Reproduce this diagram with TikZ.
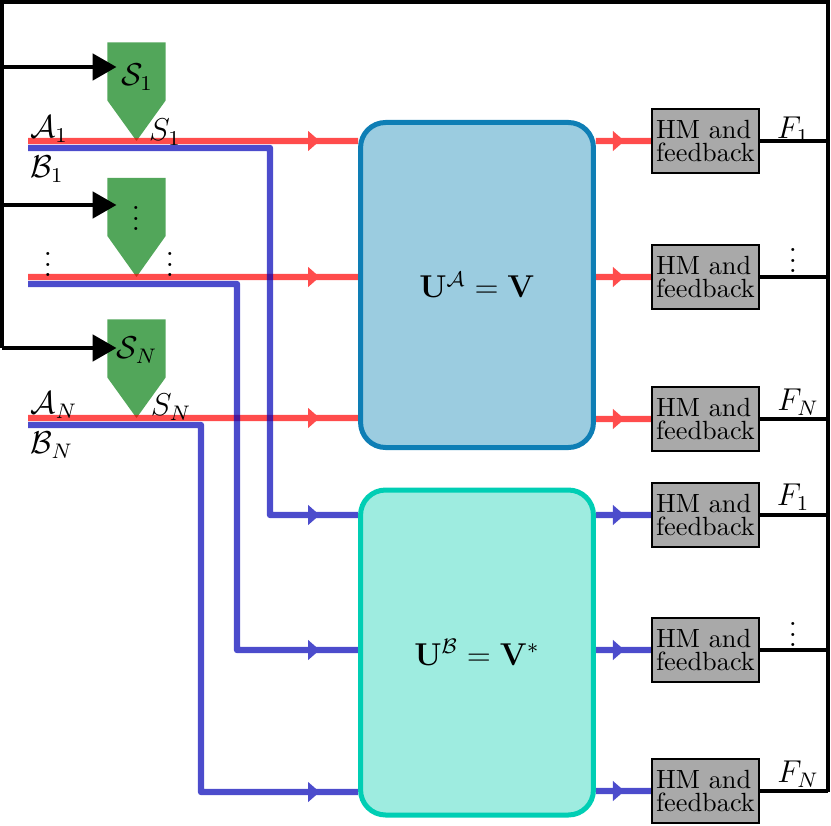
\documentclass[tikz,border=0pt]{standalone}
\usepackage{amsmath,amssymb}
\usetikzlibrary{arrows.meta,decorations.markings,calc}
\definecolor{redc}{RGB}{255,0,0}
\definecolor{bluec}{RGB}{0,0,183}
\definecolor{greenc}{RGB}{82,166,90}
\definecolor{afill}{RGB}{155,204,224}
\definecolor{adraw}{RGB}{14,126,181}
\definecolor{bfill}{RGB}{158,236,224}
\definecolor{bdraw}{RGB}{0,206,180}
\definecolor{hmgray}{RGB}{169,169,169}
\begin{document}
\begin{tikzpicture}[x=0.38pt,y=-0.38pt,
  redl/.style={draw, color=redc, line width=2.4pt},
  bluel/.style={draw, color=bluec, line width=2.4pt, line join=round},
  midarr/.style={postaction={decorate}, decoration={markings, mark=at position #1 with {\arrow{Triangle[length=4.4pt,width=7.4pt]}}}},
  fbl/.style={draw=black, line width=1.3pt},
  fbarr/.style={fbl, -{Triangle[length=9pt,width=10pt]}},
  gbox/.style={minimum width=21.7pt, minimum height=21.7pt, inner sep=0pt},
  hm/.style={draw, fill=hmgray, line width=0.8pt, minimum width=40.8pt, minimum height=24pt, align=left, inner sep=1.5pt},
  bigbox/.style={rounded corners=9.5pt, line width=1.9pt, minimum width=88.5pt, minimum height=123.5pt, font=\large},
  lbl/.style={inner sep=0pt, font=\large}
]
\useasboundingbox (0,0) rectangle (831,825);

% big boxes (positions only, drawn later)
\path (477,285) node[bigbox] (boxA) {};
\path (477,652.5) node[bigbox] (boxB) {};

% HM boxes
\node[hm] (hm1) at (705.5,141) {HM and\\[-2.9pt]feedback};
\node[hm] (hm2) at (705.5,277) {HM and\\[-2.9pt]feedback};
\node[hm] (hm3) at (705.5,419) {HM and\\[-2.9pt]feedback};
\node[hm] (hm4) at (705.5,515) {HM and\\[-2.9pt]feedback};
\node[hm] (hm5) at (705.5,650) {HM and\\[-2.9pt]feedback};
\node[hm] (hm6) at (705.5,791) {HM and\\[-2.9pt]feedback};

% green selectors
\node[gbox] (g1) at (136.5,71.5) {};
\coordinate (g1t) at (136.5,141);
\fill[greenc] (g1.north west) -- (g1.north east) -- (g1.south east) -- (g1t) -- (g1.south west) -- cycle;
\node[gbox] (g2) at (136.5,207) {};
\coordinate (g2t) at (136.5,277);
\fill[greenc] (g2.north west) -- (g2.north east) -- (g2.south east) -- (g2t) -- (g2.south west) -- cycle;
\node[gbox] (g3) at (136.5,348.5) {};
\coordinate (g3t) at (136.5,418);
\fill[greenc] (g3.north west) -- (g3.north east) -- (g3.south east) -- (g3t) -- (g3.south west) -- cycle;
\node[lbl] (S1) at (137,77) {$\mathcal{S}_1$};
\node[lbl] (Sd) at (136,211) {$\vdots$};
\node[lbl] (SN) at (137,350) {$\mathcal{S}_N$};

% coordinates
\coordinate (a1) at (28,141);
\coordinate (a2) at (28,277);
\coordinate (a3) at (28,418);
\coordinate (b1) at (28,148);
\coordinate (b2) at (28,284);
\coordinate (b3) at (28,425);
\coordinate (b1c) at (270,148);
\coordinate (b1d) at (270,515);
\coordinate (b2c) at (237,284);
\coordinate (b2d) at (237,650);
\coordinate (b3c) at (201,425);
\coordinate (b3d) at (201,792);

% red lines
\begin{scope}[transparency group, opacity=0.7]
\draw[redl, midarr=-14.6pt] (a1) -- (boxA.west |- a1);
\draw[redl, midarr=-14.6pt] (a2) -- (boxA.west |- a2);
\draw[redl, midarr=-14.6pt] (a3) -- (boxA.west |- a3);
\draw[redl, midarr=-10pt] (boxA.east |- hm1) -- (hm1.west);
\draw[redl, midarr=-10pt] (boxA.east |- hm2) -- (hm2.west);
\draw[redl, midarr=-10pt] (boxA.east |- hm3) -- (hm3.west);
\end{scope}
% blue lines
\begin{scope}[transparency group, opacity=0.7]
\draw[bluel, midarr=-14.6pt] (b1) -- (b1c) -- (b1d) -- (boxB.west |- b1d);
\draw[bluel, midarr=-14.6pt] (b2) -- (b2c) -- (b2d) -- (boxB.west |- b2d);
\draw[bluel, midarr=-14.6pt] (b3) -- (b3c) -- (b3d) -- (boxB.west |- b3d);
\draw[bluel, midarr=-10pt] (boxB.east |- hm4) -- (hm4.west);
\draw[bluel, midarr=-10pt] (boxB.east |- hm5) -- (hm5.west);
\draw[bluel, midarr=-10pt] (boxB.east |- hm6) -- (hm6.west);
\end{scope}

% big boxes drawn
\node[bigbox, draw=adraw, fill=afill] at (boxA) {$\mathbf{U}^{\mathcal{A}}=\mathbf{V}$};
\node[bigbox, draw=bdraw, fill=bfill] at (boxB) {$\mathbf{U}^{\mathcal{B}}=\mathbf{V}^*$};

% feedback frame
\coordinate (tl) at (2,2);
\coordinate (tr) at (828,2);
\coordinate (lb) at (2,348);
\coordinate (rb) at (828,792);
\draw[fbl] (lb) -- (tl) -- (tr) -- (rb);
\foreach \h in {hm1,hm2,hm3,hm4,hm5,hm6}{
  \draw[fbl] (\h.east) -- (\h.east -| tr);
}
\coordinate (l1) at (2,67);
\coordinate (l2) at (2,205);
\coordinate (l3) at (2,348);
\coordinate (g1in) at ($(g1.west)+(9,0)$);
\coordinate (g2in) at ($(g2.west)+(9,0)$);
\coordinate (g3in) at ($(g3.west)+(9,0)$);
\draw[fbarr] (l1) -- (l1 -| g1in);
\draw[fbarr] (l2) -- (l2 -| g2in);
\draw[fbarr] (l3) -- (l3 -| g3in);

% labels left
\node[lbl] (A1) at (49,129) {$\mathcal{A}_1$};
\node[lbl] (s1) at (165,132) {$S_1$};
\node[lbl] (B1) at (47,169) {$\mathcal{B}_1$};
\node[lbl] (dl) at (48,257) {$\vdots$};
\node[lbl] (dr) at (170,257) {$\vdots$};
\node[lbl] (AN) at (54,405) {$\mathcal{A}_N$};
\node[lbl] (sN) at (171,407) {$S_N$};
\node[lbl] (BN) at (52,445) {$\mathcal{B}_N$};

% labels right
\node[lbl] (F1a) at (793,130) {$F_1$};
\node[lbl] (Fda) at (793,253) {$\vdots$};
\node[lbl] (FNa) at (798,402) {$F_N$};
\node[lbl] (F1b) at (793,497) {$F_1$};
\node[lbl] (Fdb) at (793,627) {$\vdots$};
\node[lbl] (FNb) at (798,774) {$F_N$};
\end{tikzpicture}
\end{document}
